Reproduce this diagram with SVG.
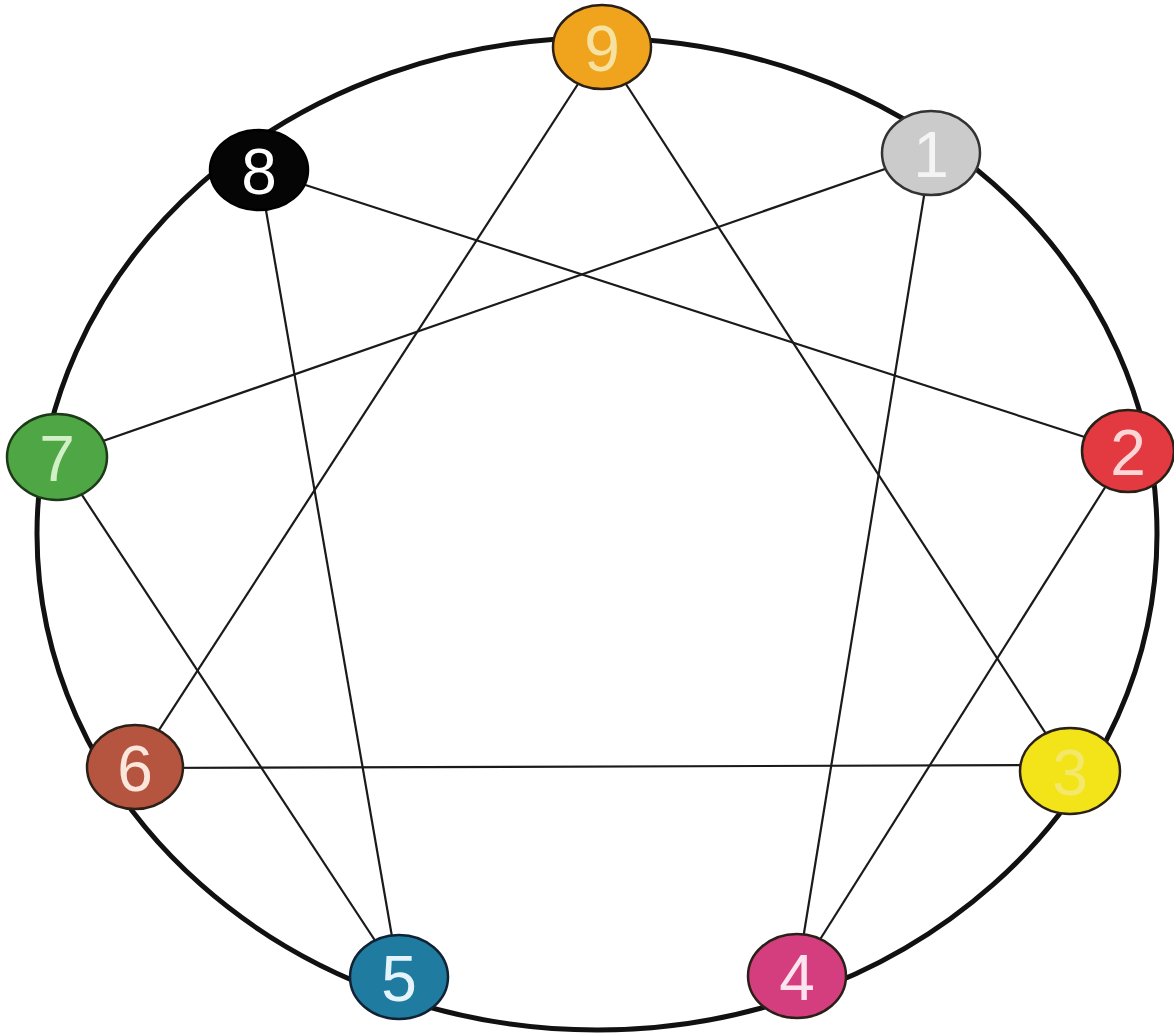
<svg xmlns="http://www.w3.org/2000/svg" width="1174" height="1035" viewBox="0 0 1174 1035">
<style>
.ring{fill:none;stroke:#111;stroke-width:5}
.edge{stroke:#1a1a1a;stroke-width:2.2;fill:none}
.node ellipse{stroke:#2a2018;stroke-width:2.5}
.node text{font-family:"Liberation Sans",Arial,sans-serif;font-size:64px;text-anchor:middle;dominant-baseline:central}
</style>
<rect width="1174" height="1035" fill="#ffffff"/>
<ellipse class="ring" cx="597" cy="534" rx="560" ry="496"/>
<g id="connectors">
<line class="edge" x1="602" y1="47" x2="135" y2="767"/>
<line class="edge" x1="602" y1="47" x2="1070" y2="771"/>
<line class="edge" x1="135" y1="768" x2="1070" y2="765"/>
<line class="edge" x1="931" y1="153" x2="57" y2="457"/>
<line class="edge" x1="931" y1="153" x2="797" y2="976"/>
<line class="edge" x1="1128" y1="451" x2="797" y2="976"/>
<line class="edge" x1="1128" y1="451" x2="259" y2="170"/>
<line class="edge" x1="259" y1="170" x2="399" y2="977"/>
<line class="edge" x1="57" y1="457" x2="399" y2="977"/>
</g>
<g id="node9" class="node"><ellipse cx="602" cy="47" rx="49" ry="42" fill="#F0A41E"/><text x="602" y="49" fill="#F6E2A0">9</text></g>
<g id="node1" class="node"><ellipse cx="931" cy="153" rx="49" ry="42" fill="#CBCBCB" style="stroke:#333"/><text x="931" y="155" fill="#F4F4F4">1</text></g>
<g id="node2" class="node"><ellipse cx="1128" cy="451" rx="46" ry="41" fill="#E23A40"/><text x="1128" y="453" fill="#FBD6D6">2</text></g>
<g id="node3" class="node"><ellipse cx="1070" cy="771" rx="50" ry="43" fill="#F2E418"/><text x="1070" y="773" fill="#F4E86A">3</text></g>
<g id="node4" class="node"><ellipse cx="797" cy="976" rx="49" ry="42" fill="#D53E7E"/><text x="797" y="978" fill="#FBE4EE">4</text></g>
<g id="node5" class="node"><ellipse cx="399" cy="977" rx="49" ry="42" fill="#1F7BA0" style="stroke:#123"/><text x="399" y="979" fill="#E4F4FA">5</text></g>
<g id="node6" class="node"><ellipse cx="135" cy="767" rx="48" ry="42" fill="#B55540"/><text x="135" y="769" fill="#FBE6DC">6</text></g>
<g id="node7" class="node"><ellipse cx="57" cy="457" rx="50" ry="43" fill="#4EA644" style="stroke:#1d3a18"/><text x="57" y="459" fill="#D2F0C6">7</text></g>
<g id="node8" class="node"><ellipse cx="259" cy="170" rx="49" ry="40" fill="#050505" style="stroke:#000"/><text x="259" y="172" fill="#FFFFFF">8</text></g>
</svg>
